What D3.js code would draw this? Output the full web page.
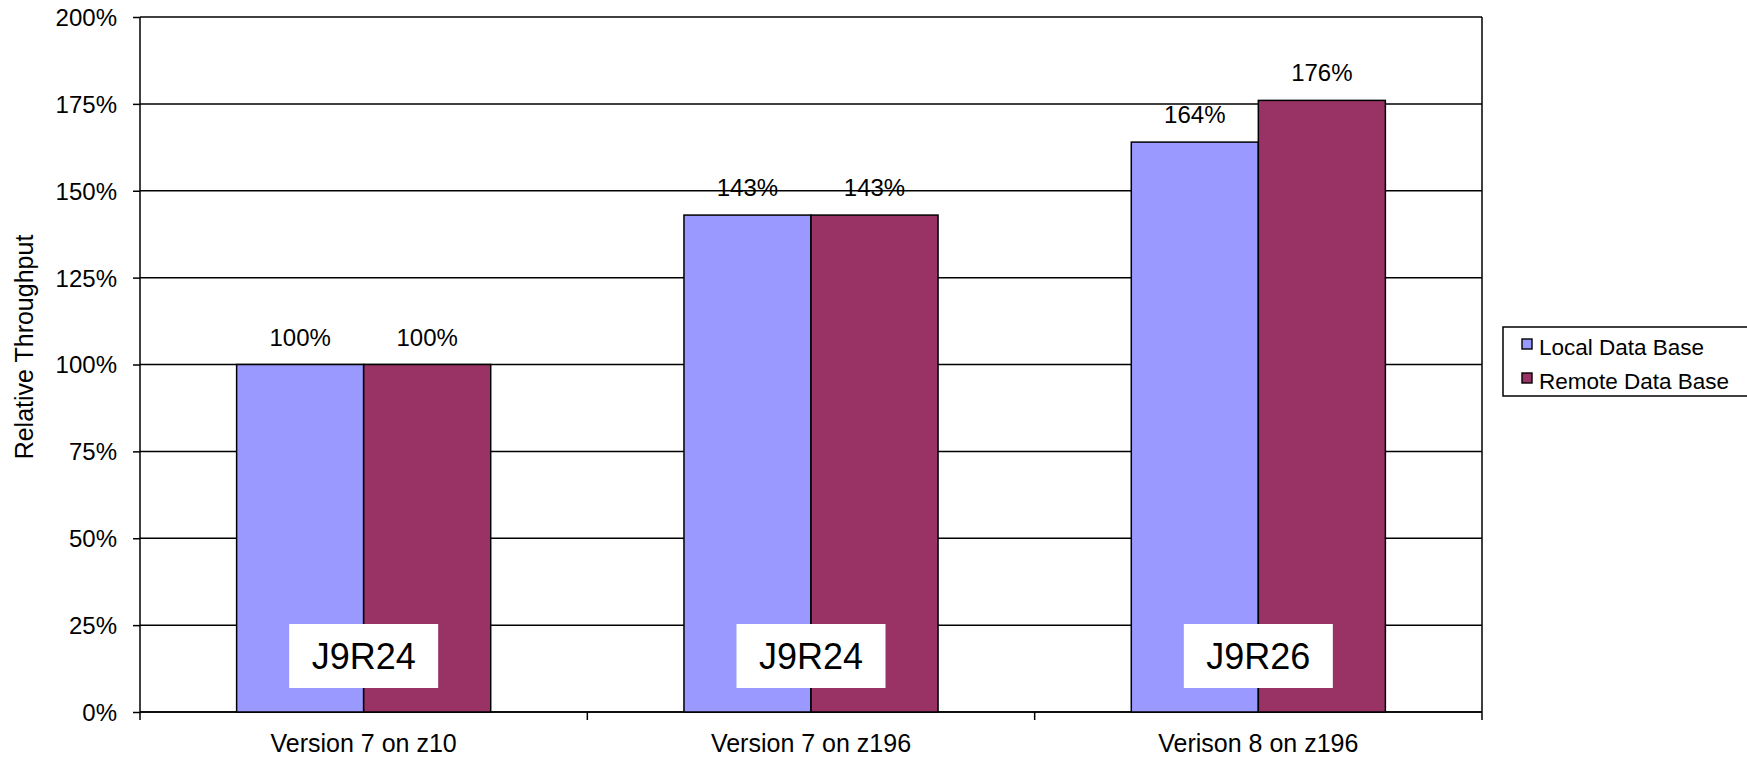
<!DOCTYPE html>
<html>
<head>
<meta charset="utf-8">
<script src="https://cdn.jsdelivr.net/npm/d3@7"></script>
<style>
  body { margin: 0; background: #fff; }
  svg text { font-family: "Liberation Sans", Arial, sans-serif; fill: #000; }
</style>
</head>
<body>
<svg id="chart" width="1747" height="757"></svg>
<script>
// chart data
var categories = ["Version 7 on z10", "Version 7 on z196", "Verison 8 on z196"];
var seriesNames = ["Local Data Base", "Remote Data Base"];
var localValues = [1.00, 1.43, 1.64];
var remoteValues = [1.00, 1.43, 1.76];
var boxLabels = ["J9R24", "J9R24", "J9R26"];
var yTicks = [0, 0.25, 0.5, 0.75, 1, 1.25, 1.5, 1.75, 2];

var colors = d3.scaleOrdinal(seriesNames, ["#9999ff", "#993366"]);

var svg = d3.select("#chart"),
    margin = {top: 17, right: 265, bottom: 45, left: 140},
    width = +svg.attr("width") - margin.left - margin.right,
    height = +svg.attr("height") - margin.top - margin.bottom;

var g = svg.append("g")
    .attr("transform", "translate(" + margin.left + "," + margin.top + ")");

var x0 = d3.scaleBand()
    .domain(categories)
    .range([0, width]);

var x1 = d3.scaleBand()
    .domain(seriesNames)
    .range([x0.bandwidth() * 0.216, x0.bandwidth() * 0.784]);

var y = d3.scaleLinear()
    .domain([0, 2])
    .range([height, 0]);

// gridlines
g.append("g")
    .selectAll("line")
    .data(yTicks)
    .enter().append("line")
    .attr("x1", 0)
    .attr("x2", width)
    .attr("y1", function(d) { return y(d); })
    .attr("y2", function(d) { return y(d); })
    .attr("stroke", "#000")
    .attr("stroke-width", 1.5);

// right border
g.append("line")
    .attr("x1", width).attr("x2", width)
    .attr("y1", 0).attr("y2", height)
    .attr("stroke", "#000")
    .attr("stroke-width", 1.5);

// y axis
var yAxis = g.append("g")
    .call(d3.axisLeft(y)
          .tickValues(yTicks)
          .tickSize(7)
          .tickPadding(16)
          .tickFormat(d3.format(".0%")));
yAxis.selectAll("text")
    .style("font-size", "24px")
    .attr("dy", "0.35em");
yAxis.selectAll("line, path").attr("stroke", "#000").attr("stroke-width", 1.5);
yAxis.select(".domain").attr("d", "M0," + height + "V0");

// x axis, ticks sit between categories
var xEdge = d3.scaleLinear().domain([0, categories.length]).range([0, width]);
var xAxis = g.append("g")
    .attr("transform", "translate(0," + height + ")");
xAxis.append("line")
    .attr("x1", 0).attr("x2", width)
    .attr("stroke", "#000").attr("stroke-width", 1.5);
xAxis.selectAll(".tick")
    .data(d3.range(categories.length + 1))
    .enter().append("line")
    .attr("class", "tick")
    .attr("x1", function(d) { return xEdge(d); })
    .attr("x2", function(d) { return xEdge(d); })
    .attr("y1", 0).attr("y2", 8)
    .attr("stroke", "#000").attr("stroke-width", 1.5);
xAxis.selectAll(".cat")
    .data(categories)
    .enter().append("text")
    .attr("class", "cat")
    .attr("x", function(d) { return x0(d) + x0.bandwidth() / 2; })
    .attr("y", 40)
    .attr("text-anchor", "middle")
    .style("font-size", "25px")
    .text(function(d) { return d; });

// y axis title
svg.append("text")
    .attr("transform", "translate(33,347) rotate(-90)")
    .attr("text-anchor", "middle")
    .style("font-size", "25px")
    .text("Relative Throughput");

// bars
var rows = categories.map(function(c, i) {
    return {cat: c, values: [
        {name: seriesNames[0], value: localValues[i]},
        {name: seriesNames[1], value: remoteValues[i]}
    ]};
});

var group = g.selectAll(".group")
    .data(rows)
    .enter().append("g")
    .attr("class", "group")
    .attr("transform", function(d) { return "translate(" + x0(d.cat) + ",0)"; });

group.selectAll("rect")
    .data(function(d) { return d.values; })
    .enter().append("rect")
    .attr("x", function(d) { return x1(d.name); })
    .attr("y", function(d) { return y(d.value); })
    .attr("width", x1.bandwidth())
    .attr("height", function(d) { return height - y(d.value); })
    .attr("fill", function(d) { return colors(d.name); })
    .attr("stroke", "#000")
    .attr("stroke-width", 1.5);

group.selectAll(".val")
    .data(function(d) { return d.values; })
    .enter().append("text")
    .attr("class", "val")
    .attr("x", function(d) { return x1(d.name) + x1.bandwidth() / 2; })
    .attr("y", function(d) { return y(d.value) - 19; })
    .attr("text-anchor", "middle")
    .style("font-size", "24px")
    .text(function(d) { return d3.format(".0%")(d.value); });

// release labels in white boxes
var boxW = 149, boxH = 64;
var box = g.selectAll(".box")
    .data(boxLabels)
    .enter().append("g")
    .attr("class", "box")
    .attr("transform", function(d, i) {
        return "translate(" + (x0(categories[i]) + x0.bandwidth() / 2) + "," + (height - 56) + ")";
    });
box.append("rect")
    .attr("x", -boxW / 2)
    .attr("y", -boxH / 2)
    .attr("width", boxW)
    .attr("height", boxH)
    .attr("fill", "#fff");
box.append("text")
    .attr("text-anchor", "middle")
    .attr("dy", "0.36em")
    .style("font-size", "36px")
    .text(function(d) { return d; });

// legend
var legend = svg.append("g")
    .attr("transform", "translate(1503,327)");
legend.append("rect")
    .attr("width", 260)
    .attr("height", 69)
    .attr("fill", "#fff")
    .attr("stroke", "#000")
    .attr("stroke-width", 1.5);
var item = legend.selectAll(".item")
    .data(seriesNames)
    .enter().append("g")
    .attr("class", "item")
    .attr("transform", function(d, i) { return "translate(19," + (17 + i * 34) + ")"; });
item.append("rect")
    .attr("x", 0)
    .attr("y", -5)
    .attr("width", 10)
    .attr("height", 10)
    .attr("fill", function(d) { return colors(d); })
    .attr("stroke", "#000")
    .attr("stroke-width", 1.4);
item.append("text")
    .attr("x", 17)
    .attr("dy", "0.48em")
    .style("font-size", "22.5px")
    .text(function(d) { return d; });
</script>
</body>
</html>
